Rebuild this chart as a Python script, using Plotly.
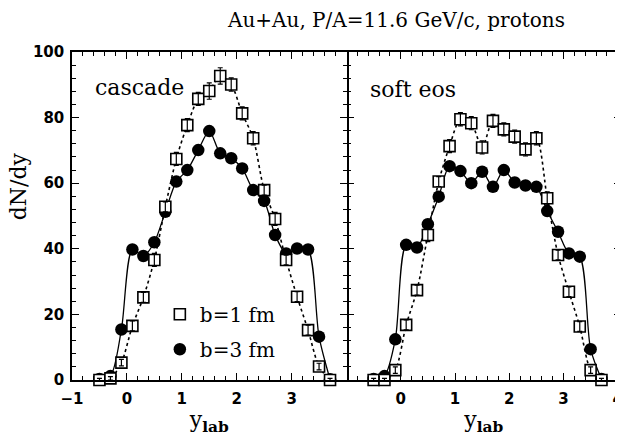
import plotly.graph_objects as go
from plotly.subplots import make_subplots

# ---------------- data ----------------
y_tick_vals = [0, 20, 40, 60, 80, 100]
x_left_tick_vals = [-1, 0, 1, 2, 3]
x_right_tick_vals = [0, 1, 2, 3, 4]

y_lab = [-0.5, -0.3, -0.1, 0.1, 0.3, 0.5, 0.7, 0.9, 1.1, 1.3, 1.5,
         1.7, 1.9, 2.1, 2.3, 2.5, 2.7, 2.9, 3.1, 3.3, 3.5, 3.7]

# cascade panel
cascade_b1 = [0.0, 0.5, 5.3, 16.5, 25.2, 36.6, 52.8, 67.4, 77.7, 85.7, 88.1,
              92.7, 90.1, 81.3, 73.7, 57.9, 49.1, 36.6, 25.4, 15.2, 4.1, 0.0]
cascade_b1_err = [0.5, 0.5, 1.0, 1.5, 1.5, 2.0, 1.5, 2.0, 2.0, 2.0, 2.5,
                  2.5, 2.0, 2.0, 2.0, 1.5, 2.0, 1.5, 1.5, 1.5, 1.0, 0.5]
cascade_b3 = [0.3, 1.2, 15.4, 39.8, 37.8, 42.0, 51.3, 60.5, 64.0, 70.1, 75.9,
              69.1, 67.6, 64.5, 57.9, 54.6, 44.2, 38.6, 40.1, 39.8, 13.2, 0.2]

# soft eos panel
soft_b1 = [0.0, 0.0, 3.0, 16.8, 27.4, 44.2, 60.5, 71.3, 79.5, 78.3, 70.9,
           79.0, 76.4, 74.2, 70.3, 73.7, 55.4, 38.1, 26.9, 16.3, 3.0, 0.0]
soft_b1_err = [0.5, 0.5, 1.0, 1.5, 1.5, 2.0, 1.5, 2.0, 2.0, 2.0, 2.0,
               2.0, 2.0, 2.0, 2.0, 2.0, 2.0, 1.5, 1.5, 1.5, 1.0, 0.5]
soft_b3 = [0.3, 1.2, 12.4, 41.2, 40.4, 47.5, 55.9, 65.2, 63.7, 60.0, 63.5,
           58.9, 64.0, 60.2, 59.3, 58.9, 51.5, 45.2, 38.6, 37.6, 9.4, 0.3]

panels = [("cascade", cascade_b1, cascade_b1_err, cascade_b3),
          ("soft eos", soft_b1, soft_b1_err, soft_b3)]

SERIF = "DejaVu Serif"
SANS = "DejaVu Sans"

# minor tick positions (axis decoration only)
x_minor_vals = [round(-1 + 0.2 * k, 2) for k in range(27)]
y_minor_vals = [4 * k for k in range(26)]

fig = make_subplots(rows=1, cols=2, shared_yaxes=True, horizontal_spacing=0)

for i, (name, b1, b1err, b3) in enumerate(panels):
    col = i + 1
    show = (i == 0)
    fig.add_trace(go.Scatter(x=y_lab, y=b1, mode="lines",
                             line=dict(color="black", width=1.6, dash="dot",
                                       shape="spline", smoothing=0.8),
                             showlegend=False, hoverinfo="skip"), row=1, col=col)
    fig.add_trace(go.Scatter(x=y_lab, y=b3, mode="lines",
                             line=dict(color="black", width=1.3,
                                       shape="spline", smoothing=0.8),
                             showlegend=False, hoverinfo="skip"), row=1, col=col)
    fig.add_trace(go.Scatter(x=y_lab, y=b3, mode="markers", name="b=3 fm",
                             legendgroup="b3", legendrank=2,
                             marker=dict(symbol="circle", size=12.5, color="black",
                                         line=dict(color="black", width=0)),
                             cliponaxis=False, showlegend=show), row=1, col=col)
    fig.add_trace(go.Scatter(x=y_lab, y=b1, mode="markers", name="b=1 fm",
                             legendgroup="b1", legendrank=1,
                             marker=dict(symbol="square", size=11, color="white",
                                         line=dict(color="black", width=1.6)),
                             cliponaxis=False, showlegend=show), row=1, col=col)
    fig.add_trace(go.Scatter(x=y_lab, y=b1, mode="markers",
                             marker=dict(size=1, color="rgba(0,0,0,0)"),
                             error_y=dict(type="data", array=b1err, visible=True,
                                          color="black", thickness=1.2, width=2.5),
                             cliponaxis=False, showlegend=False, hoverinfo="skip"),
                  row=1, col=col)

axis_common = dict(showline=True, linecolor="black", linewidth=1.5,
                   mirror="allticks", ticks="inside", ticklen=7, tickwidth=1.2,
                   tickcolor="black", showgrid=False, zeroline=False,
                   minor=dict(tickmode="array", tickvals=x_minor_vals, ticks="inside",
                              ticklen=4, tickwidth=1, tickcolor="black", showgrid=False),
                   tickfont=dict(family=SANS, size=15, color="black", weight="bold"),
                   ticklabelstandoff=4, ticklabeloverflow="allow",
                   title=dict(text="y<sub><b>lab</b></sub>",
                              font=dict(family=SERIF, size=22, color="black"),
                              standoff=10))

fig.update_xaxes(range=[-1, 4], tickmode="array", tickvals=x_left_tick_vals,
                 ticktext=[("\u2212" + str(-v)) if v < 0 else str(v) for v in x_left_tick_vals],
                 row=1, col=1, **axis_common)
fig.update_xaxes(range=[-1, 4.06], tickmode="array", tickvals=x_right_tick_vals,
                 ticktext=[str(v) for v in x_right_tick_vals],
                 row=1, col=2, **axis_common)

yaxis_common = dict(range=[0, 100], linecolor="black", linewidth=1.5,
                    mirror="allticks", ticks="inside", ticklen=7, tickwidth=1.2,
                    tickcolor="black", showgrid=False, zeroline=False,
                    tickmode="array", tickvals=y_tick_vals,
                    minor=dict(tickmode="array", tickvals=y_minor_vals, ticks="inside",
                               ticklen=4, tickwidth=1, tickcolor="black", showgrid=False),
                    tickfont=dict(family=SANS, size=15, color="black", weight="bold"),
                    ticklabelstandoff=3)
fig.update_yaxes(row=1, col=1, showline=True, **yaxis_common)
fig.update_yaxes(row=1, col=2, showline=False, showticklabels=False, **yaxis_common)

annotations = [
    dict(text="cascade", xref="x domain", yref="y domain", x=0.076, y=0.893,
         xanchor="left", yanchor="middle", showarrow=False,
         font=dict(family=SERIF, size=22, color="black")),
    dict(text="soft eos", xref="x2 domain", yref="y2 domain", x=0.08, y=0.887,
         xanchor="left", yanchor="middle", showarrow=False,
         font=dict(family=SERIF, size=22, color="black")),
    dict(text="Au+Au, P/A=11.6 GeV/c, protons", xref="paper", yref="paper",
         x=0.59, y=1.098, xanchor="center", yanchor="middle", showarrow=False,
         font=dict(family=SERIF, size=20, color="black")),
    dict(text="dN/dy", xref="paper", yref="paper", x=-0.097, y=0.59,
         xanchor="center", yanchor="middle", textangle=-90, showarrow=False,
         font=dict(family=SERIF, size=22, color="black")),
]

# page body adds an 8px offset; size the figure so the plot lands where it should
fig.update_layout(
    width=615, height=428,
    margin=dict(l=64, r=0, t=44, b=56),
    paper_bgcolor="white", plot_bgcolor="white",
    annotations=annotations,
    showlegend=True,
    legend=dict(x=0.16, y=0.26, xanchor="left", yanchor="top",
                bgcolor="rgba(0,0,0,0)", borderwidth=0,
                traceorder="grouped", tracegroupgap=6, itemwidth=30,
                font=dict(family=SERIF, size=20, color="black")),
)

fig.write_html("out.html")
